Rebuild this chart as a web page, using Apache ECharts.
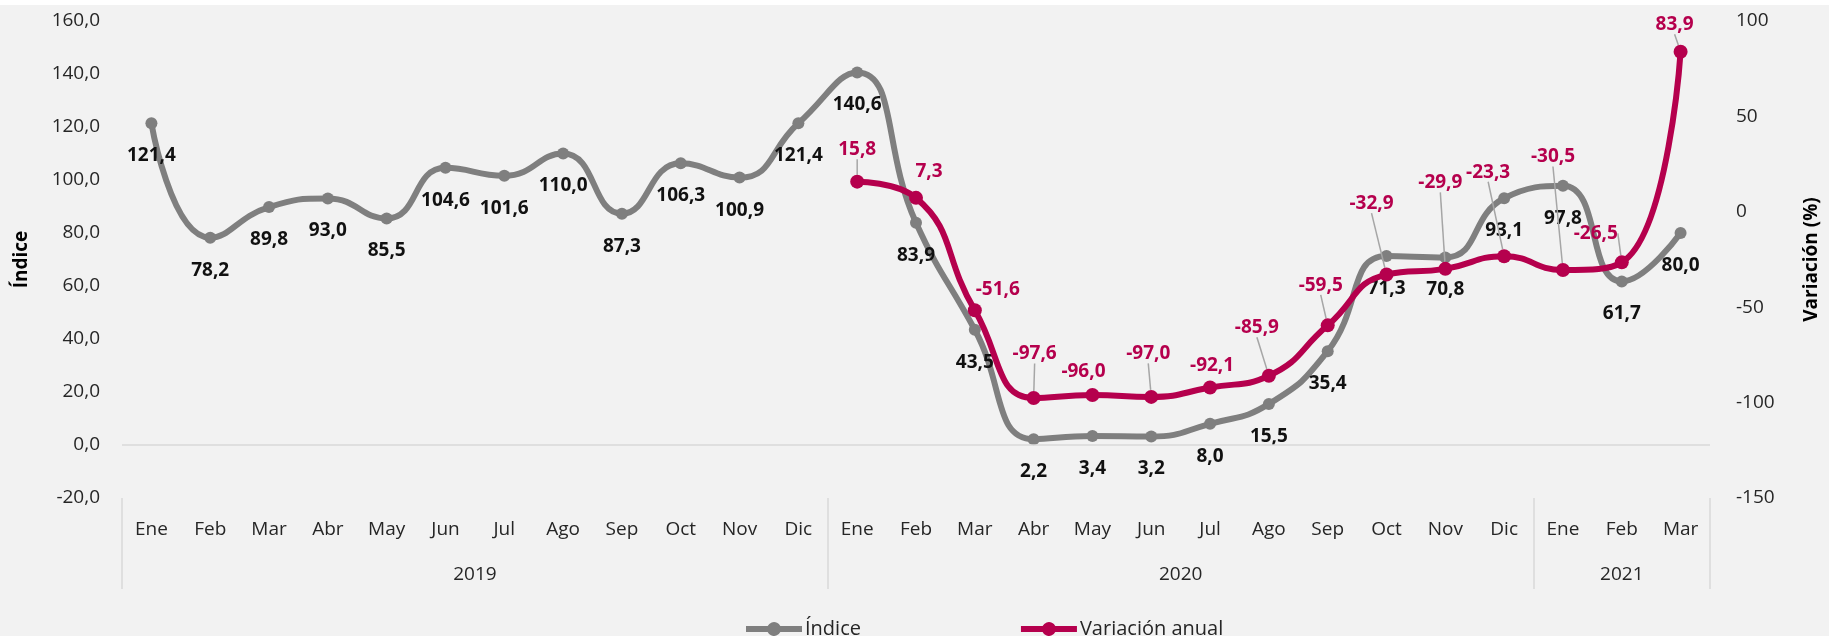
<!DOCTYPE html>
<html>
<head>
<meta charset="utf-8">
<script src="https://cdn.jsdelivr.net/npm/echarts@6/dist/echarts.min.js"></script>
<style>
  html, body { margin: 0; padding: 0; background: #ffffff; }
  #chart { position: absolute; left: 0; top: 5px; width: 1829px; height: 631px; background: #f2f2f2; }
</style>
</head>
<body>
<div id="chart"></div>
<script>
// months of the x axis, grouped by year below
const months = [
  'Ene', 'Feb', 'Mar', 'Abr', 'May', 'Jun', 'Jul', 'Ago', 'Sep', 'Oct', 'Nov', 'Dic',
  'Ene', 'Feb', 'Mar', 'Abr', 'May', 'Jun', 'Jul', 'Ago', 'Sep', 'Oct', 'Nov', 'Dic',
  'Ene', 'Feb', 'Mar'
]
const years = ['2019', '2020', '2021']
const yearLengths = [12, 12, 3]

const indice = [
  121.4, 78.2, 89.8, 93.0, 85.5, 104.6, 101.6, 110.0, 87.3, 106.3, 100.9, 121.4,
  140.6, 83.9, 43.5, 2.2, 3.4, 3.2, 8.0, 15.5, 35.4, 71.3, 70.8, 93.1,
  97.8, 61.7, 80.0
]
const variacion = [
  null, null, null, null, null, null, null, null, null, null, null, null,
  15.8, 7.3, -51.6, -97.6, -96.0, -97.0, -92.1, -85.9, -59.5, -32.9, -29.9, -23.3,
  -30.5, -26.5, 83.9
]

const leftTicks = { min: -20, max: 160, interval: 20 }
const rightTicks = { min: -150, max: 100, interval: 50 }

// hand-placed label nudges (label centre relative to the point), like the excel original
const varLabelNudge = {
  12: [0, -32], 13: [13, -26], 14: [23, -21], 15: [1, -44], 16: [-9, -23],
  17: [-3, -43], 18: [2, -22], 19: [-12, -48], 20: [-7, -40], 21: [-15, -71],
  22: [-5, -86], 23: [-16, -84], 24: [-10, -113], 25: [-26, -29], 26: [-6, -27]
}
const varLeader = [12, 15, 17, 19, 20, 21, 22, 23, 24, 25, 26]

const GRAY = '#7f7f7f'
const CRIMSON = '#b5004d'
const FONT = '"Open Sans", "Noto Sans", sans-serif'
const fmt1 = (v) => v.toFixed(1).replace('.', ',')
// thick line with a dot in the middle, as in the excel legend
const LEGEND_ICON = 'path://M0,5H21.68A7,7,0,0,1,34.32,5H56V11H34.32A7,7,0,0,1,21.68,11H0Z'

// year boundaries and centres on a -0.5..n-0.5 value scale
const yearBounds = [-0.5]
const yearCenters = []
let acc = -0.5
yearLengths.forEach((n) => {
  yearCenters.push(acc + n / 2)
  acc += n
  yearBounds.push(acc)
})

const varData = variacion.map((v, i) =>
  v === null ? '-' : { value: v, labelLine: { show: varLeader.includes(i) } }
)

const chart = echarts.init(document.getElementById('chart'))

chart.setOption({
  backgroundColor: '#f2f2f2',
  textStyle: { fontFamily: FONT },
  animation: false,
  grid: { left: 122, right: 111, top: 16, bottom: 138 },
  legend: {
    left: 741,
    top: 609,
    icon: LEGEND_ICON,
    itemWidth: 56,
    itemHeight: 14,
    itemGap: 160,
    textStyle: { fontSize: 20, color: '#262626', fontFamily: FONT, padding: [0, 0, 0, -2] },
    data: ['Índice', 'Variación anual']
  },
  xAxis: [
    {
      type: 'category',
      data: months,
      boundaryGap: true,
      axisLine: { show: false },
      axisTick: { show: false },
      axisLabel: { color: '#262626', fontSize: 19, margin: 22, interval: 0 },
      splitLine: { show: false }
    },
    {
      type: 'value',
      min: -0.5,
      max: months.length - 0.5,
      position: 'bottom',
      axisLine: { show: false, onZero: false },
      splitLine: { show: false },
      axisTick: {
        show: true,
        customValues: yearBounds,
        length: 91,
        lineStyle: { color: '#d9d9d9', width: 1.5 }
      },
      axisLabel: {
        customValues: yearCenters,
        color: '#262626',
        fontSize: 19,
        margin: 67,
        formatter: (v) => {
          const k = yearCenters.findIndex((c) => Math.abs(c - v) < 1e-6)
          return k >= 0 ? years[k] : ''
        }
      }
    }
  ],
  yAxis: [
    {
      type: 'value',
      min: leftTicks.min,
      max: leftTicks.max,
      interval: leftTicks.interval,
      name: 'Índice',
      nameLocation: 'middle',
      nameRotate: 90,
      nameGap: 91,
      nameTextStyle: { fontSize: 19, fontWeight: 'bold', color: '#000' },
      axisLine: { show: false },
      axisTick: { show: false },
      splitLine: { show: false },
      axisLabel: { color: '#262626', fontSize: 19, margin: 22, formatter: fmt1 }
    },
    {
      type: 'value',
      min: rightTicks.min,
      max: rightTicks.max,
      interval: rightTicks.interval,
      name: 'Variación (%)',
      nameLocation: 'middle',
      nameRotate: 90,
      nameGap: 92,
      nameTextStyle: { fontSize: 19, fontWeight: 'bold', color: '#000' },
      axisLine: { show: false },
      axisTick: { show: false },
      splitLine: { show: false },
      axisLabel: { color: '#262626', fontSize: 19, margin: 26 }
    }
  ],
  series: [
    {
      name: 'Índice',
      type: 'line',
      xAxisIndex: 0,
      yAxisIndex: 0,
      data: indice,
      smooth: 0.5,
      symbol: 'circle',
      symbolSize: 12,
      lineStyle: { color: GRAY, width: 6 },
      itemStyle: { color: GRAY },
      label: {
        show: true,
        position: 'bottom',
        distance: 17,
        fontSize: 19,
        fontWeight: 'bold',
        color: '#111',
        formatter: (p) => fmt1(p.value)
      },
      markLine: {
        silent: true,
        symbol: 'none',
        label: { show: false },
        lineStyle: { color: '#d9d9d9', width: 1.5, type: 'solid' },
        data: [{ yAxis: 0 }]
      },
      z: 2
    },
    {
      name: 'Variación anual',
      type: 'line',
      xAxisIndex: 0,
      yAxisIndex: 1,
      data: varData,
      smooth: 0.5,
      symbol: 'circle',
      symbolSize: 14,
      lineStyle: { color: CRIMSON, width: 6 },
      itemStyle: { color: CRIMSON },
      label: {
        show: true,
        position: 'inside',
        fontSize: 19,
        fontWeight: 'bold',
        color: CRIMSON,
        formatter: (p) => fmt1(p.value)
      },
      labelLine: {
        show: true,
        lineStyle: { color: '#a6a6a6', width: 1.5 }
      },
      labelLayout: (params) => {
        const n = varLabelNudge[params.dataIndex]
        return n ? { dx: n[0], dy: n[1] } : {}
      },
      z: 3
    }
  ]
})
</script>
</body>
</html>
